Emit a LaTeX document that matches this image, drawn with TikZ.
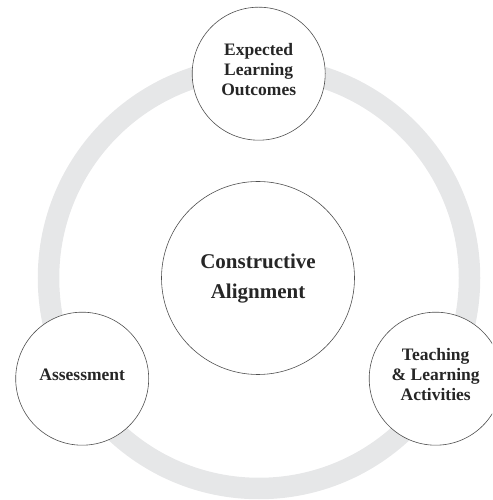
\documentclass[tikz,border=0pt]{standalone}
\usepackage{fontspec}
\setmainfont{Liberation Serif}
\definecolor{ringgray}{HTML}{E6E7E8}
\definecolor{edgegray}{HTML}{505050}
\newcommand{\liftup}{\\[-12pt]\mbox{}}
\begin{document}
\begin{tikzpicture}[x=1pt,y=1pt,
  ringline/.style={draw=ringgray, line width=21.5pt},
  bub/.style={circle, draw=edgegray, line width=0.6pt, fill=white, inner sep=0pt, align=center,
    text=black!85, font=\bfseries\fontsize{17.5}{20}\selectfont},
  smallbub/.style={bub, minimum size=133pt},
  bigbub/.style={bub, minimum size=193pt, font=\bfseries\fontsize{21}{30}\selectfont}]
\useasboundingbox (0,0) rectangle (492,500);
\clip (0,0) rectangle (492,500);
\coordinate (c) at (259,222);
\draw[ringline] (c) circle (210.5);
\node[bigbub] (ca) at (258,222) {Constructive\\Alignment\\[-26pt]\mbox{}};
\node[smallbub] (elo) at (258.7,426.3) {Expected\\Learning\\Outcomes\liftup};
\node[smallbub] (as) at (82.2,121.3) {Assessment\liftup};
\node[smallbub] (tla) at (435.7,121.3) {Teaching\\\& Learning\\Activities\liftup};
\end{tikzpicture}
\end{document}
